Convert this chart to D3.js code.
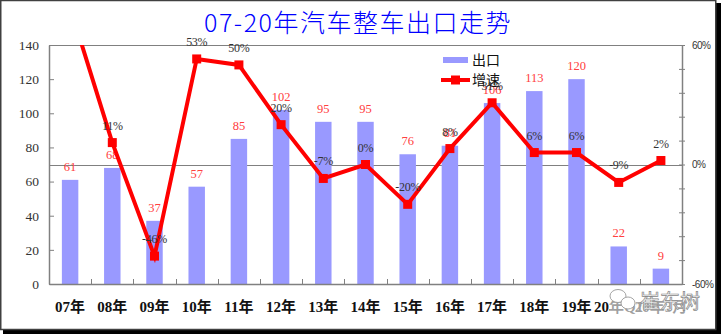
<!DOCTYPE html>
<html>
<head>
<meta charset="utf-8">
<script src="https://cdn.jsdelivr.net/npm/d3@7/dist/d3.min.js"></script>
<style>
  html, body { margin: 0; padding: 0; background: #fff; }
  svg { display: block; }
</style>
</head>
<body>
<svg id="chart" width="721" height="334"></svg>
<script>
// Export volume (10k units) and year-on-year growth (%)
const categories = ["07年","08年","09年","10年","11年","12年","13年","14年","15年","16年","17年","18年","19年","20年Q1","20年3月"];
const exportValues = [61, 68, 37, 57, 85, 102, 95, 95, 76, 81, 106, 113, 120, 22, 9];
const growthValues = [79, 11, -46, 53, 50, 20, -7, 0, -20, 8, 31, 6, 6, -9, 2];
const leftTicks = [0, 20, 40, 60, 80, 100, 120, 140];
const rightTicks = [-60, -48, -36, -24, -12, 0, 12, 24, 36, 48, 60];
const rightLabelled = [-60, 0, 60];

const svg = d3.select("#chart");
const W = 721, H = 334;
const plot = { left: 49, right: 682, top: 45, bottom: 284 };

const serif = "'Liberation Serif', 'Noto Sans CJK SC', serif";
const cjk = "'Noto Sans CJK SC', sans-serif";

// outer frame with drop shadow
svg.append("rect").attr("x", 3).attr("y", 3).attr("width", W - 3).attr("height", H - 3).attr("fill", "#000");
svg.append("rect").attr("x", 0.75).attr("y", 0.5).attr("width", 715).attr("height", 329)
  .attr("fill", "#fff").attr("stroke", "#404040").attr("stroke-width", 1.5);

const x = d3.scaleBand().domain(categories).range([plot.left, plot.right]).paddingInner(0).paddingOuter(0);
const yL = d3.scaleLinear().domain([0, 140]).range([plot.bottom, plot.top]);
const yR = d3.scaleLinear().domain([-60, 60]).range([plot.bottom, plot.top]);
const barW = x.bandwidth() * 0.39;
const cx = c => x(c) + x.bandwidth() / 2;

// title
svg.append("text").attr("x", 358).attr("y", 32).attr("text-anchor", "middle")
  .attr("font-family", cjk).attr("font-size", 25).attr("font-weight", 300).attr("fill", "#0000ff")
  .attr("letter-spacing", 1.5)
  .text("07-20年汽车整车出口走势");

// plot frame lines
svg.append("line").attr("x1", plot.left).attr("x2", plot.right).attr("y1", plot.top + 0.5).attr("y2", plot.top + 0.5)
  .attr("stroke", "#808080").attr("stroke-width", 1);
svg.append("line").attr("x1", plot.left).attr("x2", plot.right).attr("y1", Math.round(yR(0)) + 0.5).attr("y2", Math.round(yR(0)) + 0.5)
  .attr("stroke", "#808080").attr("stroke-width", 1);

// bars
svg.append("g").selectAll("rect").data(categories).join("rect")
  .attr("x", (c) => cx(c) - barW / 2)
  .attr("y", (c, i) => yL(exportValues[i]))
  .attr("width", barW)
  .attr("height", (c, i) => yL(0) - yL(exportValues[i]))
  .attr("fill", "#9999ff");

// left axis
const gL = svg.append("g").attr("transform", `translate(${plot.left},0)`)
  .call(d3.axisLeft(yL).tickValues(leftTicks).tickSize(-5).tickSizeOuter(0).tickPadding(10));
gL.select(".domain").attr("stroke", "#808080").attr("stroke-width", 1.5);
gL.selectAll(".tick line").attr("stroke", "#808080");
gL.selectAll(".tick text").attr("font-family", serif).attr("font-size", 13.5).attr("fill", "#333");

// right axis
const gR = svg.append("g").attr("transform", `translate(${plot.right},0)`)
  .call(d3.axisRight(yR).tickValues(rightTicks).tickSize(3).tickSizeOuter(0).tickPadding(7)
    .tickFormat(d => rightLabelled.includes(d) ? d + "%" : ""));
gR.select(".domain").attr("stroke", "#808080").attr("stroke-width", 1.5);
gR.selectAll(".tick line").attr("x1", -3).attr("x2", 3).attr("stroke", "#808080");
gR.selectAll(".tick text").attr("font-family", "'Liberation Sans Narrow', 'Liberation Sans', sans-serif")
  .attr("font-size", 10).attr("fill", "#333").attr("letter-spacing", -0.5);

// bottom axis: labels from the band scale, ticks at category boundaries
const gB = svg.append("g").attr("transform", `translate(0,${plot.bottom})`)
  .call(d3.axisBottom(x).tickSize(0).tickPadding(17).tickSizeOuter(0));
gB.select(".domain").attr("stroke", "#808080").attr("stroke-width", 1.5);
gB.selectAll(".tick text").attr("font-family", serif).attr("font-size", 15).attr("font-weight", "bold").attr("fill", "#111");
svg.append("g").selectAll("line").data(categories.slice(1)).join("line")
  .attr("x1", c => Math.round(x(c)) + 0.5).attr("x2", c => Math.round(x(c)) + 0.5)
  .attr("y1", plot.bottom - 5).attr("y2", plot.bottom)
  .attr("stroke", "#808080");

// value labels above bars
svg.append("g").selectAll("text").data(categories).join("text")
  .attr("x", c => cx(c))
  .attr("y", (c, i) => yL(exportValues[i]) - 9)
  .attr("text-anchor", "middle")
  .attr("font-family", serif).attr("font-size", 12.5).attr("fill", "#ff4040")
  .text((c, i) => exportValues[i]);

// growth line, clipped to the plot area
svg.append("clipPath").attr("id", "plotClip").append("rect")
  .attr("x", plot.left).attr("y", plot.top).attr("width", plot.right - plot.left).attr("height", plot.bottom - plot.top);
const lineGen = d3.line().x((d, i) => cx(categories[i])).y(d => yR(d));
const gLine = svg.append("g").attr("clip-path", "url(#plotClip)");
gLine.append("path").datum(growthValues).attr("d", lineGen)
  .attr("fill", "none").attr("stroke", "#ff0000").attr("stroke-width", 4).attr("stroke-linejoin", "miter");
gLine.selectAll("rect").data(growthValues).join("rect")
  .attr("x", (d, i) => cx(categories[i]) - 4.5)
  .attr("y", d => yR(d) - 4.5)
  .attr("width", 9).attr("height", 9).attr("fill", "#ff0000");

// growth labels
const inRange = growthValues.map((d, i) => ({ d, i })).filter(o => o.d <= 60 && o.d >= -60);
svg.append("g").selectAll("text").data(inRange).join("text")
  .attr("x", o => cx(categories[o.i]))
  .attr("y", o => yR(o.d) - 13)
  .attr("text-anchor", "middle")
  .attr("font-family", serif).attr("font-size", 12).attr("fill", "#333")
  .attr("letter-spacing", -0.3)
  .text(o => o.d + "%");

// legend
const lg = svg.append("g");
lg.append("rect").attr("x", 443).attr("y", 57).attr("width", 25).attr("height", 6).attr("fill", "#9999ff");
lg.append("text").attr("x", 472).attr("y", 65).attr("font-family", cjk).attr("font-size", 14).attr("fill", "#111").text("出口");
lg.append("line").attr("x1", 441).attr("x2", 470).attr("y1", 80).attr("y2", 80).attr("stroke", "#ff0000").attr("stroke-width", 4);
lg.append("rect").attr("x", 451).attr("y", 75.5).attr("width", 9).attr("height", 9).attr("fill", "#ff0000");
lg.append("text").attr("x", 472).attr("y", 85).attr("font-family", cjk).attr("font-size", 14).attr("fill", "#111").text("增速");

// author mark
const wm = svg.append("g");
wm.append("rect").attr("x", 610).attr("y", 288).attr("width", 92).attr("height", 26).attr("fill", "#fff").attr("opacity", 0.6);
wm.append("ellipse").attr("cx", 618).attr("cy", 296).attr("rx", 8).attr("ry", 6.5)
  .attr("fill", "#fff").attr("stroke", "#999").attr("stroke-width", 0.9);
wm.append("ellipse").attr("cx", 628).attr("cy", 303).attr("rx", 7).attr("ry", 6)
  .attr("fill", "#fff").attr("stroke", "#999").attr("stroke-width", 0.9);
wm.append("text").attr("x", 640).attr("y", 309).attr("font-family", cjk).attr("font-size", 20)
  .attr("fill", "#f4f4f4").attr("stroke", "#888").attr("stroke-width", 0.7)
  .text("崔东树");
</script>
</body>
</html>
